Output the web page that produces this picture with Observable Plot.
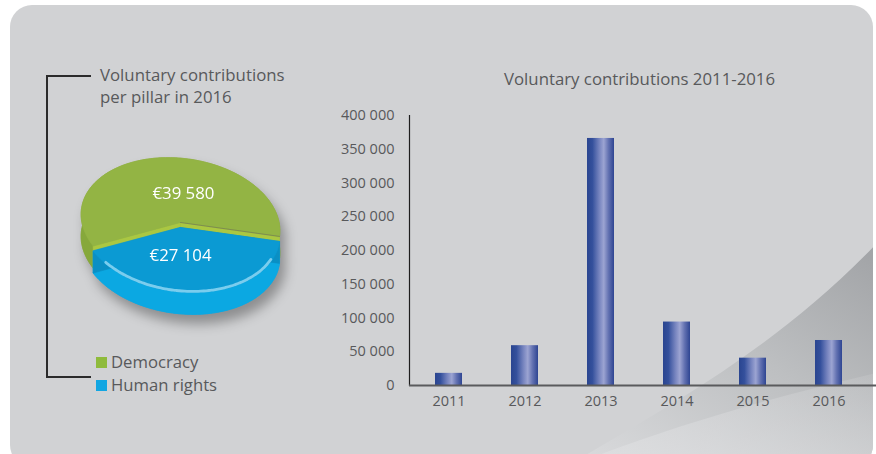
<!DOCTYPE html>
<html>
<head>
<meta charset="utf-8">
<script src="https://cdn.jsdelivr.net/npm/d3@7"></script>
<script src="https://cdn.jsdelivr.net/npm/@observablehq/plot@0.6"></script>
<style>
  html, body { margin: 0; padding: 0; background: #ffffff; }
  body { width: 876px; height: 454px; overflow: hidden; position: relative; font-family: "Open Sans", sans-serif; color: #58595b; }
  #card { position: absolute; left: 10px; top: 5px; width: 863px; height: 462px; border-radius: 22px; background: #d1d2d4; overflow: hidden; }
  #swoosh { position: absolute; left: 0; top: 0; }
  .abs { position: absolute; white-space: nowrap; }
  #pie { position: absolute; left: 60px; top: 130px; }
  #pie svg { filter: drop-shadow(5px 9px 6px rgba(0,0,0,0.32)); overflow: visible; }
  #bars { position: absolute; left: 0; top: 0; }
  .title { font-size: 16.8px; line-height: 22px; color: #58595b; }
  .legend { font-size: 16.7px; line-height: 22px; color: #58595b; }
  .sq { position: absolute; width: 11px; height: 11px; }
  .bracket { position: absolute; background: #2b2b2b; }
</style>
</head>
<body>
<div id="card">
  <svg id="swoosh" width="863" height="462" viewBox="10 5 863 462">
    <defs>
      <linearGradient id="swg" x1="1" y1="0.1" x2="0.15" y2="1">
        <stop offset="0" stop-color="#a3a5a8"/>
        <stop offset="0.45" stop-color="#bdbfc1"/>
        <stop offset="1" stop-color="#d8d9db"/>
      </linearGradient>
      <linearGradient id="swl" x1="0" y1="1" x2="1" y2="0">
        <stop offset="0" stop-color="#dfe0e2" stop-opacity="0.9"/>
        <stop offset="1" stop-color="#d5d6d8" stop-opacity="0.2"/>
      </linearGradient>
    </defs>
    <path d="M 560 470 C 680 400, 780 345, 880 240 L 880 470 Z" fill="url(#swg)"/>
    <path d="M 560 470 C 660 430, 760 400, 880 372 L 880 470 Z" fill="url(#swl)"/>
  </svg>
</div>

<div class="bracket" style="left:46px; top:75px; width:1.5px; height:302px;"></div>
<div class="bracket" style="left:46px; top:75px; width:45px; height:1.5px;"></div>
<div class="bracket" style="left:46px; top:376px; width:45px; height:1.5px;"></div>

<div class="abs title" style="left:100px; top:64px;">Voluntary contributions<br>per pillar in 2016</div>
<div class="abs title" id="barTitle" style="left:504px; top:68px;">Voluntary contributions 2011-2016</div>

<div id="legend"></div>
<div id="pie"></div>
<div id="bars"></div>

<script>
// ---------- Data ----------
const years = ["2011", "2012", "2013", "2014", "2015", "2016"];
const contributions = [18000, 59000, 366000, 94000, 40500, 66684];
const yTicks = [0, 50000, 100000, 150000, 200000, 250000, 300000, 350000, 400000];

const pillars = ["Democracy", "Human rights"];
const pillarValues = [39580, 27104];
const pillarLabels = ["€39 580", "€27 104"];
const pillarTop = ["#93b444", "#0b9ad3"];
const pillarSide = ["#86a83b", "#0ba8e2"];
const pillarCut = ["#aac742", "#0a8fc4"];
const legendSwatch = ["#8fbb3c", "#12a6e2"];

// ---------- Bar chart ----------
const barData = years.map((y, i) => ({year: y, value: contributions[i]}));
const fmt = d => d3.format(",")(d).replace(/,/g, " ");

const bars = Plot.plot({
  width: 876,
  height: 454,
  marginLeft: 409,
  marginTop: 115,
  marginBottom: 69,
  marginRight: 0,
  style: {background: "transparent", fontFamily: "Open Sans, sans-serif", fontSize: "14.5px", color: "#58595b", overflow: "visible"},
  x: {domain: years, range: [409, 868], paddingInner: 0.65, paddingOuter: 0.325, label: null, tickSize: 0, tickPadding: 10},
  y: {domain: [0, 400000], ticks: yTicks, tickFormat: fmt, label: null, tickSize: 0, tickPadding: 15},
  marks: [
    Plot.frame({anchor: "left", stroke: "#1e1e1e", strokeWidth: 1.2}),
    Plot.barY(barData, {x: "year", y: "value", fill: "url(#barGrad)"}),
    Plot.ruleY([0], {stroke: "#5a5b5d", strokeWidth: 2})
  ]
});
const defs = d3.select(bars).insert("defs", ":first-child");
const g = defs.append("linearGradient").attr("id", "barGrad").attr("x1", 0).attr("x2", 1).attr("y1", 0).attr("y2", 0);
[["0", "#2a4590"], ["0.2", "#34509c"], ["0.45", "#7583be"], ["0.62", "#9ca4d2"], ["0.8", "#6271b1"], ["1", "#2e4592"]]
  .forEach(([o, c]) => g.append("stop").attr("offset", o).attr("stop-color", c));
document.getElementById("bars").appendChild(bars);

// ---------- 3D pie ----------
const TILT = 8 * Math.PI / 180, K = 0.64, DEPTH = 0.22, EXPLODE = 0.05;
function pt(a, r, dz) {
  const t = a - Math.PI / 2;
  const ux = r * Math.cos(t), uy = r * K * Math.sin(t);
  return {x: ux * Math.cos(TILT) - uy * Math.sin(TILT), y: ux * Math.sin(TILT) + uy * Math.cos(TILT) + dz};
}
function arcPts(a0, a1, r, dz) {
  const n = 72;
  return d3.range(n + 1).map(i => pt(a0 + (a1 - a0) * i / n, r, dz));
}
// Human rights first, starting at 3 o'clock, clockwise
const order = [1, 0];
const arcs = d3.pie().sort(null).startAngle(Math.PI / 2).endAngle(Math.PI / 2 + 2 * Math.PI)(order.map(i => pillarValues[i]));
const sliceByPillar = {};
arcs.forEach((a, j) => { sliceByPillar[order[j]] = a; });

const pieMarks = [];
const drawOrder = [0, 1]; // Democracy (back), then Human rights (front, exploded down)
for (const p of drawOrder) {
  const s = sliceByPillar[p];
  const off = p === 1 ? EXPLODE : 0;
  const a0 = s.startAngle, a1 = s.endAngle;
  const bottom = [pt(0, 0, off + DEPTH), ...arcPts(a0, a1, 1, off + DEPTH)];
  const band = [...arcPts(a0, a1, 1, off), ...arcPts(a0, a1, 1, off + DEPTH).reverse()];
  const cuts = [a0, a1].map(a => [pt(0, 0, off), pt(a, 1, off), pt(a, 1, off + DEPTH), pt(0, 0, off + DEPTH)]);
  const top = [pt(0, 0, off), ...arcPts(a0, a1, 1, off)];
  const poly = (pts, c) => Plot.line(pts, {x: "x", y: "y", fill: c, stroke: c, strokeWidth: 0.6, curve: "linear-closed"});
  pieMarks.push(poly(bottom, pillarSide[p]));
  pieMarks.push(poly(band, pillarSide[p]));
  cuts.forEach(c => pieMarks.push(poly(c, pillarCut[p])));
  pieMarks.push(poly(top, pillarTop[p]));
  if (p === 0) {
    pieMarks.push(Plot.line([pt(0, 0, 0), pt(a1, 1, 0)], {x: "x", y: "y", stroke: "#6f7558", strokeWidth: 0.9, strokeOpacity: 0.7}));
  }
  if (p === 1) {
    const span = a1 - a0;
    pieMarks.push(Plot.line(arcPts(a0 + span * 0.12, a1 - span * 0.08, 0.985, off), {x: "x", y: "y", stroke: "#86d3f1", strokeWidth: 2.8, strokeOpacity: 0.9, curve: "basis"}));
  }
}
const labelData = pillars.map((name, p) => {
  const s = sliceByPillar[p];
  const c = pt((s.startAngle + s.endAngle) / 2, 0.5, p === 1 ? EXPLODE : 0);
  return {x: c.x, y: c.y, label: pillarLabels[p]};
});
pieMarks.push(Plot.text(labelData.filter((d, i) => i === 0), {x: "x", y: "y", text: "label", fill: "white", fontSize: 16.8, dx: 13, dy: 3}));
pieMarks.push(Plot.text(labelData.filter((d, i) => i === 1), {x: "x", y: "y", text: "label", fill: "white", fontSize: 16.8, dx: -10, dy: -4}));

const pie = Plot.plot({
  width: 240,
  height: 200,
  margin: 0,
  style: {background: "transparent", fontFamily: "Open Sans, sans-serif", overflow: "visible"},
  x: {domain: [-1.2, 1.2], axis: null},
  y: {domain: [-0.92, 1.08], reverse: true, axis: null},
  marks: pieMarks
});
document.getElementById("pie").appendChild(pie);

// ---------- Legend ----------
const legend = document.getElementById("legend");
const legendTops = [351, 374];
pillars.forEach((name, p) => {
  const sq = document.createElement("div");
  sq.className = "sq";
  sq.style.left = "96px";
  sq.style.top = (legendTops[p] + 6) + "px";
  sq.style.background = legendSwatch[p];
  legend.appendChild(sq);
  const t = document.createElement("div");
  t.className = "abs legend";
  t.style.left = "111px";
  t.style.top = legendTops[p] + "px";
  t.textContent = name;
  legend.appendChild(t);
});
</script>
</body>
</html>
